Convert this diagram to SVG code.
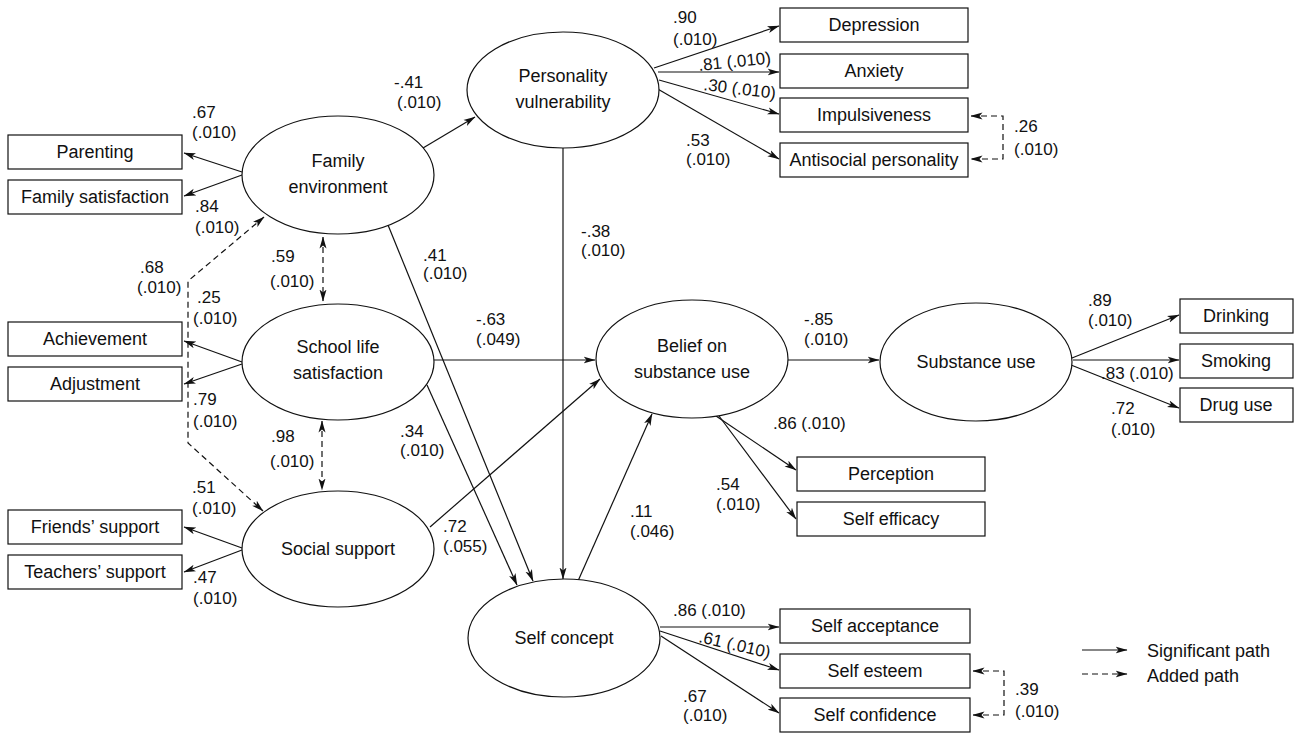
<svg xmlns="http://www.w3.org/2000/svg" width="1298" height="733" viewBox="0 0 1298 733">
<style>
  .bg{fill:#fff}
  .box{fill:#fff;stroke:#111;stroke-width:1.2}
  .ell{fill:#fff;stroke:#111;stroke-width:1.2}
  .node{font-family:"Liberation Sans",Arial,sans-serif;font-size:18px;fill:#111;text-anchor:middle}
  .lbl{font-family:"Liberation Sans",Arial,sans-serif;font-size:17px;fill:#111}
  .ln{fill:none;stroke:#111;stroke-width:1.2;marker-end:url(#ah)}
  .dash{fill:none;stroke:#111;stroke-width:1.2;stroke-dasharray:6 4;marker-start:url(#ah);marker-end:url(#ah)}
  .dash1{fill:none;stroke:#111;stroke-width:1.2;stroke-dasharray:6 4;marker-end:url(#ah)}
</style>
<defs>
  <marker id="ah" viewBox="0 0 12 8" refX="11.5" refY="4" markerWidth="12" markerHeight="8" markerUnits="userSpaceOnUse" orient="auto-start-reverse">
    <path d="M0,0.5 L12,4 L0,7.5 L3,4 Z" fill="#111"/>
  </marker>
</defs>
<rect class="bg" x="0" y="0" width="1298" height="733"/>

<g id="connectors">
  <!-- Family environment -->
  <path class="ln" d="M242,172 L184,153"/>
  <path class="ln" d="M242,175 L184,196"/>
  <path class="ln" d="M423,148 L475,117"/>
  <path class="ln" d="M388,225 L533,581"/>
  <!-- School life -->
  <path class="ln" d="M242,362 L184,341"/>
  <path class="ln" d="M242,364 L184,384"/>
  <path class="ln" d="M434,360 L595,360"/>
  <path class="ln" d="M427,385 L517,585"/>
  <!-- Social support -->
  <path class="ln" d="M242,548 L184,527"/>
  <path class="ln" d="M242,550 L184,572"/>
  <path class="ln" d="M430,527 L600,379"/>
  <!-- Personality -->
  <path class="ln" d="M654,68 L779,26"/>
  <path class="ln" d="M658,72 L779,72"/>
  <path class="ln" d="M659,80 L779,114"/>
  <path class="ln" d="M656,88 L779,159"/>
  <path class="ln" d="M563,148 L563,579"/>
  <!-- Self concept -->
  <path class="ln" d="M578,581 L652,414"/>
  <path class="ln" d="M660,627 L779,627"/>
  <path class="ln" d="M660,631 L779,670"/>
  <path class="ln" d="M661,636 L779,713"/>
  <!-- Belief -->
  <path class="ln" d="M788,360 L879,360"/>
  <path class="ln" d="M716,416 L796,470"/>
  <path class="ln" d="M719,416 L796,519"/>
  <!-- Substance use -->
  <path class="ln" d="M1072,358 L1179,315"/>
  <path class="ln" d="M1073,360 L1179,360"/>
  <path class="ln" d="M1071,365 L1179,408"/>
  <!-- Added / correlation paths -->
  <path class="dash" d="M323,237 L323,301"/>
  <path class="dash" d="M322,421 L322,490"/>
  <path class="dash" d="M264,217 L188,281 L188,443 L263,511"/>
  <path class="dash" d="M971,116 L1003,116 L1003,159 L971,159"/>
  <path class="dash" d="M973,671 L1004,671 L1004,715 L973,715"/>
</g>

<g id="family-environment"><ellipse class="ell" cx="338" cy="175" rx="96" ry="59"/><text class="node" x="338" y="167">Family</text><text class="node" x="338" y="193">environment</text></g>
<g id="school-life"><ellipse class="ell" cx="338" cy="362" rx="96" ry="58"/><text class="node" x="338" y="353">School life</text><text class="node" x="338" y="379">satisfaction</text></g>
<g id="social-support"><ellipse class="ell" cx="338" cy="549" rx="96" ry="58"/><text class="node" x="338" y="555">Social support</text></g>
<g id="personality"><ellipse class="ell" cx="563" cy="90" rx="96" ry="58"/><text class="node" x="563" y="82">Personality</text><text class="node" x="563" y="108">vulnerability</text></g>
<g id="belief"><ellipse class="ell" cx="692" cy="359" rx="96" ry="59"/><text class="node" x="692" y="352">Belief on</text><text class="node" x="692" y="378">substance use</text></g>
<g id="substance-use"><ellipse class="ell" cx="976" cy="362" rx="96" ry="59"/><text class="node" x="976" y="368">Substance use</text></g>
<g id="self-concept"><ellipse class="ell" cx="564" cy="638" rx="96" ry="59"/><text class="node" x="564" y="644">Self concept</text></g>

<g id="parenting"><rect class="box" x="8" y="135" width="174" height="34"/><text class="node" x="95" y="158">Parenting</text></g>
<g id="family-satisfaction"><rect class="box" x="8" y="180" width="174" height="34"/><text class="node" x="95" y="203">Family satisfaction</text></g>
<g id="achievement"><rect class="box" x="8" y="322" width="174" height="34"/><text class="node" x="95" y="345">Achievement</text></g>
<g id="adjustment"><rect class="box" x="8" y="367" width="174" height="34"/><text class="node" x="95" y="390">Adjustment</text></g>
<g id="friends-support"><rect class="box" x="8" y="510" width="174" height="34"/><text class="node" x="95" y="533">Friends’ support</text></g>
<g id="teachers-support"><rect class="box" x="8" y="555" width="174" height="34"/><text class="node" x="95" y="578">Teachers’ support</text></g>
<g id="depression"><rect class="box" x="780" y="8" width="188" height="34"/><text class="node" x="874" y="31">Depression</text></g>
<g id="anxiety"><rect class="box" x="780" y="54" width="188" height="34"/><text class="node" x="874" y="77">Anxiety</text></g>
<g id="impulsiveness"><rect class="box" x="780" y="98" width="188" height="34"/><text class="node" x="874" y="121">Impulsiveness</text></g>
<g id="antisocial"><rect class="box" x="780" y="143" width="188" height="34"/><text class="node" x="874" y="166">Antisocial personality</text></g>
<g id="drinking"><rect class="box" x="1180" y="299" width="113" height="34"/><text class="node" x="1236" y="322">Drinking</text></g>
<g id="smoking"><rect class="box" x="1180" y="344" width="113" height="34"/><text class="node" x="1236" y="367">Smoking</text></g>
<g id="drug-use"><rect class="box" x="1180" y="388" width="113" height="34"/><text class="node" x="1236" y="411">Drug use</text></g>
<g id="perception"><rect class="box" x="797" y="457" width="188" height="34"/><text class="node" x="891" y="480">Perception</text></g>
<g id="self-efficacy"><rect class="box" x="797" y="502" width="188" height="34"/><text class="node" x="891" y="525">Self efficacy</text></g>
<g id="self-acceptance"><rect class="box" x="780" y="609" width="190" height="34"/><text class="node" x="875" y="632">Self acceptance</text></g>
<g id="self-esteem"><rect class="box" x="780" y="654" width="190" height="34"/><text class="node" x="875" y="677">Self esteem</text></g>
<g id="self-confidence"><rect class="box" x="780" y="698" width="190" height="34"/><text class="node" x="875" y="721">Self confidence</text></g>

<g id="labels" class="lbl">
  <text class="lbl" x="192" y="118">.67</text><text class="lbl" x="192" y="138">(.010)</text>
  <text class="lbl" x="195" y="212">.84</text><text class="lbl" x="195" y="233">(.010)</text>
  <text class="lbl" x="140" y="273">.68</text><text class="lbl" x="137" y="293">(.010)</text>
  <text class="lbl" x="197" y="303">.25</text><text class="lbl" x="193" y="324">(.010)</text>
  <text class="lbl" x="271" y="262">.59</text><text class="lbl" x="270" y="287">(.010)</text>
  <text class="lbl" x="193" y="405">.79</text><text class="lbl" x="193" y="427">(.010)</text>
  <text class="lbl" x="271" y="442">.98</text><text class="lbl" x="270" y="467">(.010)</text>
  <text class="lbl" x="192" y="493">.51</text><text class="lbl" x="192" y="514">(.010)</text>
  <text class="lbl" x="193" y="583">.47</text><text class="lbl" x="193" y="604">(.010)</text>
  <text class="lbl" x="394" y="88">-.41</text><text class="lbl" x="397" y="108">(.010)</text>
  <text class="lbl" x="423" y="261">.41</text><text class="lbl" x="423" y="279">(.010)</text>
  <text class="lbl" x="581" y="237">-.38</text><text class="lbl" x="581" y="256">(.010)</text>
  <text class="lbl" x="476" y="325">-.63</text><text class="lbl" x="476" y="345">(.049)</text>
  <text class="lbl" x="400" y="437">.34</text><text class="lbl" x="400" y="456">(.010)</text>
  <text class="lbl" x="443" y="532">.72</text><text class="lbl" x="443" y="552">(.055)</text>
  <text class="lbl" x="630" y="517">.11</text><text class="lbl" x="630" y="537">(.046)</text>
  <text class="lbl" x="804" y="325">-.85</text><text class="lbl" x="804" y="345">(.010)</text>
  <text class="lbl" x="773" y="429">.86 (.010)</text>
  <text class="lbl" x="716" y="490">.54</text><text class="lbl" x="716" y="510">(.010)</text>
  <text class="lbl" x="673" y="23">.90</text><text class="lbl" x="673" y="45">(.010)</text>
  <text class="lbl" x="699" y="71" transform="rotate(-6 699 71)">.81 (.010)</text>
  <text class="lbl" x="703" y="90" transform="rotate(7 703 90)">.30 (.010)</text>
  <text class="lbl" x="686" y="146">.53</text><text class="lbl" x="686" y="165">(.010)</text>
  <text class="lbl" x="1014" y="132">.26</text><text class="lbl" x="1014" y="155">(.010)</text>
  <text class="lbl" x="1088" y="306">.89</text><text class="lbl" x="1088" y="326">(.010)</text>
  <text class="lbl" x="1101" y="379">.83 (.010)</text>
  <text class="lbl" x="1111" y="414">.72</text><text class="lbl" x="1111" y="435">(.010)</text>
  <text class="lbl" x="673" y="616">.86 (.010)</text>
  <text class="lbl" x="698" y="642" transform="rotate(13 698 642)">.61 (.010)</text>
  <text class="lbl" x="683" y="702">.67</text><text class="lbl" x="683" y="721">(.010)</text>
  <text class="lbl" x="1015" y="695">.39</text><text class="lbl" x="1015" y="717">(.010)</text>
</g>

<g id="legend">
  <path class="ln" d="M1082,650 L1127,650"/>
  <path class="dash1" d="M1082,674 L1127,674"/>
  <text class="node" x="1147" y="657" style="text-anchor:start">Significant path</text>
  <text class="node" x="1147" y="682" style="text-anchor:start">Added path</text>
</g>
</svg>
